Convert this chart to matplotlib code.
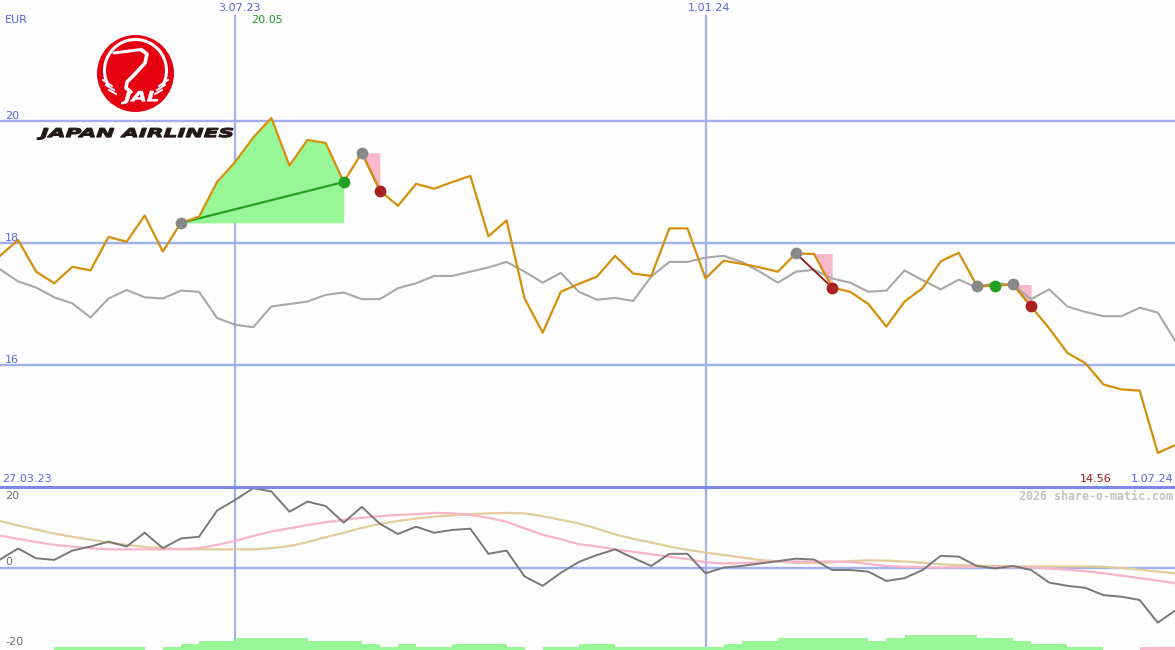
import numpy as np
import matplotlib
matplotlib.use("Agg")
import matplotlib.pyplot as plt
from matplotlib.patches import Circle, Arc, PathPatch
from matplotlib.textpath import TextPath
from matplotlib.font_manager import FontProperties
from matplotlib.transforms import Affine2D

# weekly closing prices (EUR), 3.04.23 .. 1.07.24
price = [17.79, 18.05, 17.53, 17.34, 17.61, 17.55, 18.10, 18.02, 18.45, 17.86,
         18.33, 18.43, 19.00, 19.33, 19.73, 20.05, 19.27, 19.69, 19.64, 19.00,
         19.48, 18.86, 18.61, 18.97, 18.89, 19.00, 19.10, 18.11, 18.37, 17.09,
         16.53, 17.20, 17.33, 17.45, 17.79, 17.50, 17.46, 18.24, 18.24, 17.42,
         17.71, 17.66, 17.60, 17.53, 17.83, 17.82, 17.27, 17.20, 17.00, 16.63,
         17.04, 17.26, 17.70, 17.84, 17.30, 17.30, 17.32, 16.96, 16.60, 16.20,
         16.03, 15.68, 15.60, 15.58, 14.56, 14.69]

# comparison index, scaled into the price axis
index = [17.57, 17.37, 17.27, 17.11, 17.01, 16.78, 17.09, 17.23, 17.11, 17.09,
         17.22, 17.20, 16.77, 16.66, 16.62, 16.96, 17.00, 17.04, 17.15, 17.19,
         17.08, 17.08, 17.26, 17.34, 17.46, 17.46, 17.53, 17.60, 17.69, 17.53,
         17.35, 17.51, 17.20, 17.07, 17.10, 17.05, 17.45, 17.69, 17.69, 17.76,
         17.79, 17.69, 17.53, 17.35, 17.53, 17.56, 17.42, 17.35, 17.20, 17.22,
         17.55, 17.39, 17.24, 17.40, 17.27, 17.35, 17.31, 17.08, 17.24, 16.96,
         16.87, 16.80, 16.80, 16.94, 16.86, 16.38]

# lower panel indicators
momentum = [2.1, 4.8, 2.4, 2.0, 4.3, 5.3, 6.5, 5.3, 8.7, 4.9,
            7.3, 7.7, 14.2, 16.8, 19.7, 18.9, 13.9, 16.4, 15.3, 11.2,
            15.1, 10.9, 8.4, 10.2, 8.7, 9.4, 9.7, 3.5, 4.3, -2.1,
            -4.4, -1.2, 1.5, 3.2, 4.6, 2.5, 0.5, 3.5, 3.5, -1.3,
            0.1, 0.5, 1.1, 1.7, 2.3, 2.1, -0.5, -0.5, -0.9, -3.2,
            -2.5, -0.5, 3.0, 2.8, 0.5, -0.1, 0.5, -0.5, -3.6, -4.4,
            -4.9, -6.7, -7.1, -7.9, -13.5, -10.4]

signal_fast = [8.0, 7.2, 6.4, 5.7, 5.3, 4.9, 4.6, 4.6, 4.6, 4.6,
               4.7, 4.9, 5.7, 6.7, 7.9, 9.0, 9.8, 10.6, 11.3, 11.9,
               12.4, 12.8, 13.1, 13.3, 13.6, 13.5, 13.1, 12.4, 11.4, 9.8,
               8.2, 7.1, 5.9, 5.3, 4.6, 4.0, 3.4, 2.8, 2.2, 1.4,
               1.1, 1.2, 1.4, 1.6, 1.6, 1.6, 1.6, 1.5, 1.0, 0.5,
               0.3, 0.2, 0.1, 0.2, 0.3, 0.3, 0.2, 0.1, -0.1, -0.4,
               -0.8, -1.3, -1.9, -2.5, -3.1, -3.8]

signal_slow = [11.6, 10.5, 9.5, 8.5, 7.7, 7.0, 6.3, 5.7, 5.2, 4.9,
               4.6, 4.6, 4.6, 4.6, 4.6, 4.9, 5.4, 6.4, 7.6, 8.7,
               9.9, 10.9, 11.6, 12.2, 12.7, 13.0, 13.3, 13.5, 13.6, 13.5,
               12.8, 11.9, 11.0, 9.7, 8.3, 7.2, 6.3, 5.3, 4.5, 3.8,
               3.2, 2.6, 2.0, 1.6, 1.3, 1.2, 1.4, 1.7, 1.9, 1.8,
               1.6, 1.3, 0.9, 0.7, 0.6, 0.5, 0.4, 0.4, 0.4, 0.4,
               0.4, 0.3, 0.0, -0.4, -0.9, -1.3]

# trend strength blocks at the bottom (negative = pink)
strength = [0, 0, 0, 1, 1, 1, 1, 1, 0, 1,
            2, 3, 3, 4, 4, 4, 4, 3, 3, 3,
            2, 1, 2, 1, 1, 2, 2, 2, 1, 0,
            1, 1, 2, 2, 1, 1, 1, 1, 1, 1,
            2, 3, 3, 4, 4, 4, 4, 4, 3, 4,
            5, 5, 5, 5, 4, 4, 3, 2, 2, 1,
            1, 0, 0, -1, -1, -1]

# signals: (entry week, exit week)
trades = [(10, 19), (20, 21), (44, 46), (54, 55), (56, 57)]

price_ticks = [20, 18, 16]
date_ticks = [13, 39]
date_labels = ["3.07.23", "1.01.24"]

BG = "#fdfefd"
GRID = "#a3b0f0"
BLUE_TXT = "#5865e6"

W, H = 1175, 650
fig = plt.figure(figsize=(W / 100, H / 100), dpi=100, facecolor=BG)
ax = fig.add_axes([0, 163 / H, 1, 487 / H])
axl = fig.add_axes([0, 0, 1, 163 / H])
for a in (ax, axl):
    a.set_facecolor("none")
    a.set_xticks([])
    a.set_yticks([])
    for s in a.spines.values():
        s.set_visible(False)
    a.set_xlim(0, W / 18.09)

x = np.arange(len(price))
p = np.array(price)

# ---- main panel
ax.set_ylim(14.0, 21.984)
for v in price_ticks:
    ax.axhline(v, color=GRID, lw=1.7, zorder=1)
for t in date_ticks:
    ax.axvline(t, ymin=0, ymax=1 - 16 / 487, color=GRID, lw=1.6, zorder=1)
    axl.axvline(t, color=GRID, lw=1.6, zorder=1)

ax.plot(x, index, color="#a8a8a8", lw=1.5, zorder=3)

for a, b in trades:
    seg_x = x[a:b + 1]
    seg_y = p[a:b + 1]
    if p[b] >= p[a]:
        ax.fill_between(seg_x, seg_y, p[a], where=seg_y >= p[a], interpolate=True,
                        color="#98f898", lw=0, zorder=2)
        ax.plot([a, b], [p[a], p[b]], color="#22a022", lw=1.6, zorder=4)
    else:
        ax.fill_between(seg_x, seg_y, p[a], where=seg_y <= p[a], interpolate=True,
                        color="#f8b8cc", lw=0, zorder=2)
        ax.plot([a, b], [p[a], p[b]], color="#901818", lw=1.3, zorder=4)

ax.plot(x, p, color="#d4900a", lw=1.6, zorder=5)

for a, b in trades:
    ax.plot(a, p[a], "o", ms=8.5, color="#888888", mec="none", zorder=6)
    ax.plot(b, p[b], "o", ms=8.5, mec="none", zorder=6,
            color="#22a022" if p[b] >= p[a] else "#aa2020")

# ---- lower panel
axl.set_ylim(-20.25, 20)
axl.axhline(0, color=GRID, lw=1.7, zorder=1)
step = 0.74
for i, s in enumerate(strength):
    if s == 0:
        continue
    axl.bar(i, abs(s) * step, width=1.0, bottom=-20.25, align="edge",
            color="#98f898" if s > 0 else "#f8b8cc", lw=0, zorder=2)
axl.plot(x, signal_slow, color="#e4cc9c", lw=1.6, zorder=3)
axl.plot(x, signal_fast, color="#f8b4c8", lw=1.6, zorder=3)
axl.plot(x, momentum, color="#787878", lw=1.4, zorder=4)

# ---- overlay in pixel coordinates: texts, separator, logo
ov = fig.add_axes([0, 0, 1, 1], zorder=10)
ov.set_xlim(0, W)
ov.set_ylim(H, 0)
ov.axis("off")
ov.patch.set_alpha(0)

ov.axhline(487, color="#7b88e8", lw=2.2)

fs = 8
ov.text(5, 20, "EUR", color=BLUE_TXT, fontsize=fs, va="center", ha="left")
for v in price_ticks:
    py = 121 + (20 - v) * 61
    ov.text(5, py - 5, str(v), color=BLUE_TXT, fontsize=fs, va="center", ha="left")
for t, lab in zip(date_ticks, date_labels):
    ov.text(t * 18.09 + 4, 8, lab, color=BLUE_TXT, fontsize=fs, va="center", ha="center")
ov.text(251, 20, "%.2f" % max(price), color="#22a022", fontsize=fs, va="center", ha="left")
ov.text(2, 479, "27.03.23", color=BLUE_TXT, fontsize=fs, va="center", ha="left")
ov.text(1112, 479, "%.2f" % min(price), color="#a01818", fontsize=fs, va="center", ha="right")
ov.text(1173, 479, "1.07.24", color=BLUE_TXT, fontsize=fs, va="center", ha="right")
ov.text(1173, 496, "2026 share-o-matic.com", color="#c4c4c4", fontsize=8.4,
        family="DejaVu Sans Mono", weight="bold", va="center", ha="right")
ov.text(5, 496, "20", color="#707070", fontsize=fs, va="center", ha="left")
ov.text(5, 562, "0", color="#707070", fontsize=fs, va="center", ha="left")
ov.text(5, 642, "-20", color="#707070", fontsize=fs, va="center", ha="left")


def boxed_text(s, x0, x1, ytop, ybot, color, edge=0.0):
    tp = TextPath((0, 0), s, size=10,
                  prop=FontProperties(family="DejaVu Sans", weight="bold", style="italic"))
    e = tp.get_extents()
    tr = (Affine2D().translate(-e.x0, -e.y0)
          .scale((x1 - x0) / e.width, -(ybot - ytop) / e.height)
          .translate(x0, ybot) + ov.transData)
    ov.add_patch(PathPatch(tp, fc=color, ec=color, lw=edge, transform=tr))


# JAL crane logo
cx, cy, r = 135.5, 73.5, 38.5
ov.add_patch(Circle((cx, cy), r, color="#e50012", lw=0))
ov.add_patch(Arc((cx, cy - 3), 62, 62, theta1=150, theta2=390, color="white", lw=2.2))
ov.plot([114, 141], [53, 49.5], color="white", lw=2.2, solid_capstyle="round")
ov.plot([141, 147, 145, 135, 127, 126, 131], [49.5, 54, 63, 74, 82, 88, 92],
        color="white", lw=2.6, solid_capstyle="round")
for k in range(3):
    ov.plot([103 + k * 3, 112 + k * 2], [80 + k * 5, 86 + k * 4], color="white", lw=1.4)
    ov.plot([168 - k * 3, 159 - k * 2], [80 + k * 5, 86 + k * 4], color="white", lw=1.4)
boxed_text("JAL", 121, 158, 91, 104, "white", edge=0.4)
boxed_text("JAPAN AIRLINES", 37, 233, 128, 139.5, "#231815", edge=0.8)

fig.savefig("out.png", dpi=100, facecolor=BG)
